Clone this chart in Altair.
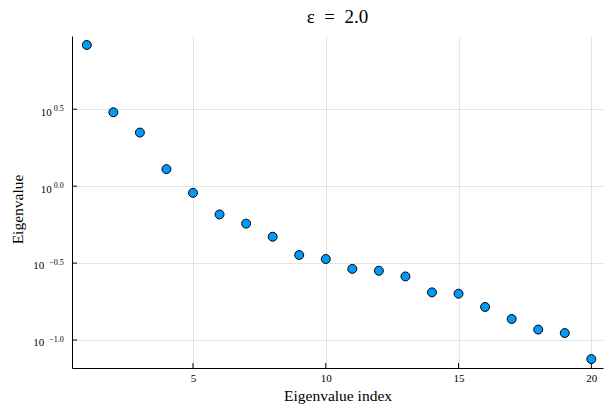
import altair as alt
import pandas as pd

# ---- data ----
index = list(range(1, 21))
eigenvalues = [8.27, 3.02, 2.23, 1.29, 0.905, 0.655, 0.571, 0.469, 0.357, 0.336,
               0.290, 0.282, 0.259, 0.204, 0.200, 0.164, 0.137, 0.117, 0.111, 0.0752]
x_ticks = [5, 10, 15, 20]
y_tick_values = [0.1, 0.316228, 1.0, 3.162278]
y_tick_exponents = ["−1.0", "−0.5", "0.0", "0.5"]
title_text = "ε\u00a0\u00a0=\u00a0\u00a02.0"
x_title = "Eigenvalue index"
y_title = "Eigenvalue"

df = pd.DataFrame({"index": index, "eigenvalue": eigenvalues})
yt = pd.DataFrame({"v": y_tick_values, "exp": y_tick_exponents})
xt = pd.DataFrame({"t": x_ticks})

W, H = 531, 332
FONT = "Liberation Serif"

xscale = alt.Scale(domain=[0.443, 20.44], nice=False, zero=False)
yscale = alt.Scale(type="log", domain=[0.0658, 9.46], nice=False)

x_axis = alt.Axis(values=x_ticks, title=x_title, grid=True, ticks=False,
                  labelFont=FONT, labelFontSize=11, labelColor="black",
                  labelBaseline="alphabetic", labelPadding=13.5,
                  titleFont=FONT, titleFontSize=15.5,
                  titleFontWeight="normal", titleColor="black",
                  titleBaseline="alphabetic", titleY=32,
                  domainColor="black", domainWidth=1,
                  gridColor="black", gridOpacity=0.1, gridWidth=1)
y_axis = alt.Axis(values=y_tick_values, title=y_title, grid=True, ticks=False,
                  labels=False, titleFont=FONT, titleFontSize=15.5,
                  titleFontWeight="normal", titleColor="black",
                  titleX=-50, titleY=173, titleAngle=-90,
                  titleAlign="center", titleBaseline="alphabetic",
                  domainColor="black", domainWidth=1,
                  gridColor="black", gridOpacity=0.1, gridWidth=1)

points = alt.Chart(df).mark_circle(
    size=80, color="#009AFA", stroke="black", strokeWidth=1, opacity=1
).encode(
    x=alt.X("index:Q", scale=xscale, axis=x_axis),
    y=alt.Y("eigenvalue:Q", scale=yscale, axis=y_axis),
)

xtick_marks = alt.Chart(xt).mark_rule(color="black", strokeWidth=1).encode(
    x=alt.X("t:Q", scale=xscale, axis=x_axis),
    y=alt.value(H), y2=alt.value(H - 5),
)
ytick_marks = alt.Chart(yt).mark_rule(color="black", strokeWidth=1).encode(
    y=alt.Y("v:Q", scale=yscale, axis=y_axis),
    x=alt.value(0), x2=alt.value(5),
)

base_pos = alt.Chart(yt).transform_filter("datum.v >= 1").mark_text(
    text="10", align="right", baseline="alphabetic", font=FONT, fontSize=11, dy=6.4,
    color="black"
).encode(y=alt.Y("v:Q", scale=yscale, axis=y_axis), x=alt.value(-20.3))
base_neg = alt.Chart(yt).transform_filter("datum.v < 1").mark_text(
    text="10", align="right", baseline="alphabetic", font=FONT, fontSize=11, dy=6.4,
    color="black"
).encode(y=alt.Y("v:Q", scale=yscale, axis=y_axis), x=alt.value(-27.7))
exps = alt.Chart(yt).mark_text(
    align="right", baseline="alphabetic", font=FONT, fontSize=8, dy=2.0, color="black"
).encode(y=alt.Y("v:Q", scale=yscale, axis=y_axis), x=alt.value(-8.3), text="exp:N")

chart = alt.layer(points, xtick_marks, ytick_marks, base_pos, base_neg, exps).properties(
    width=W, height=H,
    title=alt.TitleParams(title_text, font=FONT, fontSize=19, fontWeight="normal",
                          anchor="middle", frame="group", offset=-6,
                          baseline="alphabetic", color="black"),
    autosize=alt.AutoSizeParams(type="none"),
    padding={"left": 72, "top": 36, "right": 1, "bottom": 37},
).configure_view(stroke=None).configure_title(font=FONT)

chart.save("out.html", embed_options={"renderer": "svg", "actions": False})
